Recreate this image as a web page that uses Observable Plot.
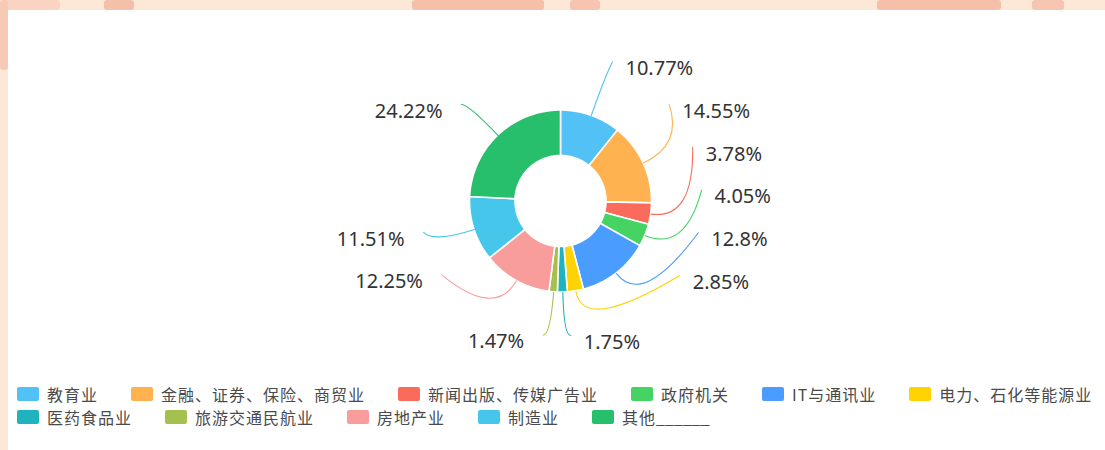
<!DOCTYPE html>
<html>
<head>
<meta charset="utf-8">
<script src="https://cdn.jsdelivr.net/npm/d3@7"></script>
<script src="https://cdn.jsdelivr.net/npm/@observablehq/plot@0.6"></script>
<style>
  html, body { margin: 0; padding: 0; width: 1105px; height: 450px; overflow: hidden; background: #fde8d7; }
  .blob { position: absolute; background: #f6c2ad; border-radius: 3px; }
  #card { position: absolute; left: 8px; top: 10px; right: 0; bottom: 0; background: #ffffff; }
  #chart { position: absolute; left: 0; top: 0; }
  #legend { position: absolute; left: 17px; top: 382px; font-family: "Noto Sans CJK SC", "Noto Sans", sans-serif; font-size: 16px; letter-spacing: 1px; color: #4a4a4a; }
  .row { display: flex; align-items: center; height: 23.5px; white-space: nowrap; }
  .item { display: flex; align-items: center; margin-right: 33px; }
  .item span { line-height: 20px; }
  .item span .us { letter-spacing: 0; }
  .sw { width: 22px; height: 14px; border-radius: 2px; margin-right: 8px; }
</style>
</head>
<body>
<div class="blob" style="left:0;top:0;width:60px;height:10px;background:#f9d4c3"></div>
<div class="blob" style="left:104px;top:0;width:30px;height:10px;background:#f5c0aa"></div>
<div class="blob" style="left:412px;top:0;width:132px;height:10px;background:#f5bfaa"></div>
<div class="blob" style="left:570px;top:0;width:30px;height:10px;background:#f6c4af"></div>
<div class="blob" style="left:877px;top:0;width:124px;height:10px;background:#f5bfaa"></div>
<div class="blob" style="left:1032px;top:0;width:32px;height:10px;background:#f6c6b1"></div>
<div class="blob" style="left:0;top:0;width:8px;height:70px;background:#f7cab6"></div>
<div id="card"></div>
<div id="chart"></div>
<div id="legend"></div>
<script>
// ---- data ----
const categories = ["教育业", "金融、证券、保险、商贸业", "新闻出版、传媒广告业", "政府机关", "IT与通讯业",
  "电力、石化等能源业", "医药食品业", "旅游交通民航业", "房地产业", "制造业", "其他______"];
const values = [10.77, 14.55, 3.78, 4.05, 12.8, 2.85, 1.75, 1.47, 12.25, 11.51, 24.22];
const colors = ["#52c1f6", "#ffb24f", "#fb6b5b", "#45d464", "#4a9cff", "#ffd202",
  "#1fb2bf", "#a4c04f", "#f99c9c", "#47c6ec", "#27bf6b"];
const legendRowSizes = [6, 5];

// ---- layout constants ----
const W = 1105, H = 382;
const cx = 560.5, cy = 201;
const R = 91, R0 = 45.5;
const len = 43, len2 = 7, labelGap = 42.7, anchorGap = 60;
const rA = R + len;

const total = d3.sum(values);
let acc = 0;
const slices = values.map((v, i) => {
  const a0 = acc / total * 2 * Math.PI; acc += v;
  const a1 = acc / total * 2 * Math.PI;
  return {i, v, a0, a1, am: (a0 + a1) / 2, color: colors[i], key: categories[i]};
});

// annular sector outlines
const arcRows = [];
for (const s of slices) {
  const n = Math.max(2, Math.ceil((s.a1 - s.a0) / (Math.PI / 180))) + 1;
  for (let k = 0; k < n; k++) {
    const t = s.a0 + (s.a1 - s.a0) * k / (n - 1);
    arcRows.push({key: s.key, color: s.color,
      x1: R * Math.sin(t), y1: -R * Math.cos(t), x2: R0 * Math.sin(t), y2: -R0 * Math.cos(t)});
  }
}

// label layout
const labels = slices.map(s => {
  const sin = Math.sin(s.am), cos = Math.cos(s.am);
  return {...s, dir: sin >= 0 ? 1 : -1,
    p0: [R * sin, -R * cos], p1: [rA * sin, -rA * cos],
    y: -rA * cos, nx: Math.abs(rA * sin),
    anchor: Math.abs(s.am - Math.PI) < 8 * Math.PI / 180,
    text: s.v + "%"};
});
for (const dir of [1, -1]) {
  const side = labels.filter(d => d.dir === dir);
  const anchors = side.filter(d => d.anchor);
  const rest = side.filter(d => !d.anchor).sort((a, b) => b.y - a.y);
  let limit = anchors.length ? d3.min(anchors, d => d.y) - anchorGap : Infinity;
  for (const d of rest) { d.y = Math.min(d.y, limit); limit = d.y - labelGap; }
  for (const semi of [side.filter(d => d.y < 0), side.filter(d => d.y >= 0)]) {
    if (!semi.length) continue;
    const far = d3.greatest(semi, d => Math.abs(d.y));
    const rB = far.nx < rA ? Math.abs(far.y) / Math.sqrt(1 - far.nx * far.nx / (rA * rA)) : rA;
    for (const d of semi) {
      const ex = rA * Math.sqrt(Math.max(0, 1 - d.y * d.y / (rB * rB)));
      d.p2 = [dir * (ex + len2), d.y];
    }
  }
}
const lineRows = labels.flatMap(d => [d.p0, d.p1, d.p2].map(p => ({key: d.key, color: d.color, x: p[0], y: p[1]})));
const textRows = labels.map(d => ({text: d.text, dir: d.dir, x: d.p2[0], y: d.p2[1]}));

function quadCurve(context) {
  let pts = [];
  return {
    areaStart() {}, areaEnd() {},
    lineStart() { pts = []; },
    point(x, y) { pts.push([+x, +y]); },
    lineEnd() {
      if (pts.length === 3) {
        context.moveTo(pts[0][0], pts[0][1]);
        context.quadraticCurveTo(pts[1][0], pts[1][1], pts[2][0], pts[2][1]);
      } else {
        pts.forEach((p, i) => i ? context.lineTo(p[0], p[1]) : context.moveTo(p[0], p[1]));
      }
    }
  };
}

const labelFont = {fontSize: 20, fontFamily: "'Noto Sans', 'Open Sans', sans-serif", fill: "#333"};
const chart = Plot.plot({
  width: W, height: H, margin: 0,
  style: {background: "transparent", overflow: "visible"},
  x: {type: "linear", domain: [-cx, W - cx], range: [0, W], axis: null},
  y: {type: "linear", domain: [-cy, H - cy], range: [0, H], axis: null},
  color: {type: "identity"},
  marks: [
    Plot.area(arcRows, {x1: "x1", y1: "y1", x2: "x2", y2: "y2", z: "key", fill: "color",
      stroke: "#ffffff", strokeWidth: 1.6, curve: "linear"}),
    Plot.line(lineRows, {x: "x", y: "y", z: "key", stroke: "color", strokeWidth: 1.1, curve: quadCurve}),
    Plot.text(textRows.filter(d => d.dir > 0), {x: "x", y: "y", text: "text", textAnchor: "start", dx: 13, dy: 7, ...labelFont}),
    Plot.text(textRows.filter(d => d.dir < 0), {x: "x", y: "y", text: "text", textAnchor: "end", dx: -19, dy: 7, ...labelFont})
  ]
});
document.getElementById("chart").appendChild(chart);

// legend
const legend = d3.select("#legend");
let start = 0;
for (const n of legendRowSizes) {
  const row = legend.append("div").attr("class", "row");
  for (let i = start; i < start + n; i++) {
    const it = row.append("div").attr("class", "item");
    it.append("div").attr("class", "sw").style("background", colors[i]);
    const span = it.append("span");
    for (const part of categories[i].split(/(_+)/).filter(p => p.length)) {
      span.append("span").attr("class", part[0] === "_" ? "us" : null).text(part);
    }
  }
  start += n;
}
</script>
</body>
</html>
